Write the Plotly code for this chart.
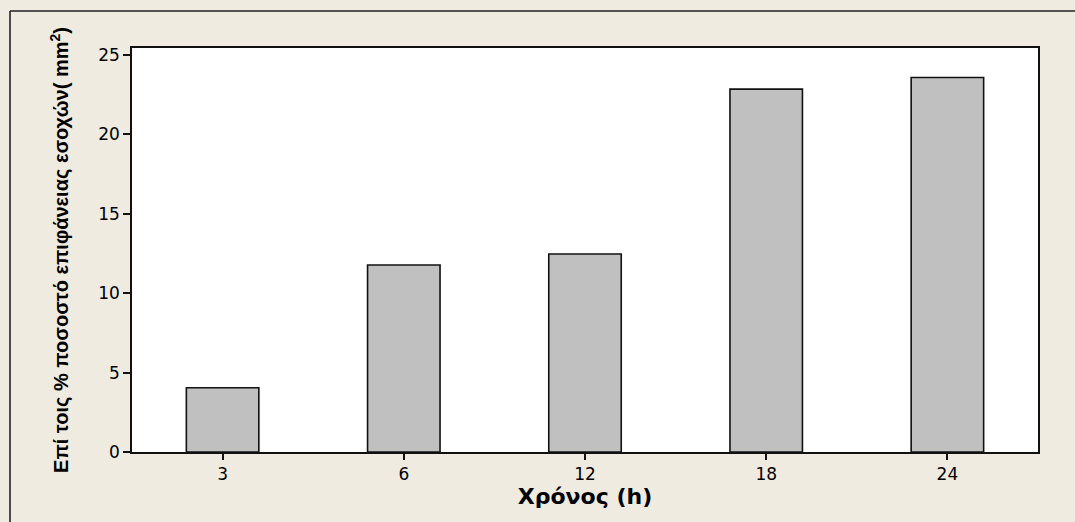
import plotly.graph_objects as go

categories = ["3", "6", "12", "18", "24"]
values = [4.05, 11.78, 12.47, 22.85, 23.58]
y_ticks = [0, 5, 10, 15, 20, 25]

W, H = 1075, 522
L, R, T, B = 132, 37, 48, 70
pw, ph = W - L - R, H - T - B

fig = go.Figure(go.Bar(
    x=categories, y=values,
    marker=dict(color="#C0C0C0", line=dict(color="#111111", width=1.6)),
    width=0.4,
))

def px_to_paper_x(px):
    return (px - L) / pw

def px_to_paper_y(py):
    return (H - B - py) / ph

fig.update_layout(
    width=W, height=H,
    margin=dict(l=L, r=R, t=T, b=B),
    paper_bgcolor="#EFEBE1",
    plot_bgcolor="white",
    showlegend=False,
    font=dict(family="DejaVu Sans", size=16, color="#000000"),
    shapes=[
        dict(type="line", xref="paper", yref="paper",
             x0=px_to_paper_x(10), x1=px_to_paper_x(W + 200),
             y0=px_to_paper_y(11), y1=px_to_paper_y(11),
             line=dict(color="#222222", width=1.6), layer="below"),
        dict(type="line", xref="paper", yref="paper",
             x0=px_to_paper_x(10), x1=px_to_paper_x(10),
             y0=px_to_paper_y(11), y1=px_to_paper_y(H + 200),
             line=dict(color="#222222", width=1.6), layer="below"),
    ],
)

fig.update_xaxes(
    type="category", range=[-0.5, 4.5],
    showline=True, linecolor="#111111", linewidth=1.6, mirror=True,
    ticks="outside", ticklen=6, tickcolor="#111111", tickwidth=1.5,
    showgrid=False, zeroline=False,
    tickfont=dict(family="DejaVu Sans", size=17),
    title=dict(text="<b>Χρόνος (h)</b>", font=dict(family="DejaVu Sans", size=22), standoff=4),
)
fig.update_yaxes(
    range=[0, 25.44], tickvals=y_ticks,
    showline=True, linecolor="#111111", linewidth=1.6, mirror=True,
    ticks="outside", ticklen=7, tickcolor="#111111", tickwidth=1.5,
    showgrid=False, zeroline=False,
    tickfont=dict(family="DejaVu Sans", size=17),
    title=dict(text="<b>Επί τοις % ποσοστό επιφάνειας εσοχών( mm<sup>2</sup>)</b>",
               font=dict(family="Liberation Sans", size=20), standoff=24),
)

fig.write_html("out.html", config={"displayModeBar": False},
               post_script="document.body.style.margin='0px';")
